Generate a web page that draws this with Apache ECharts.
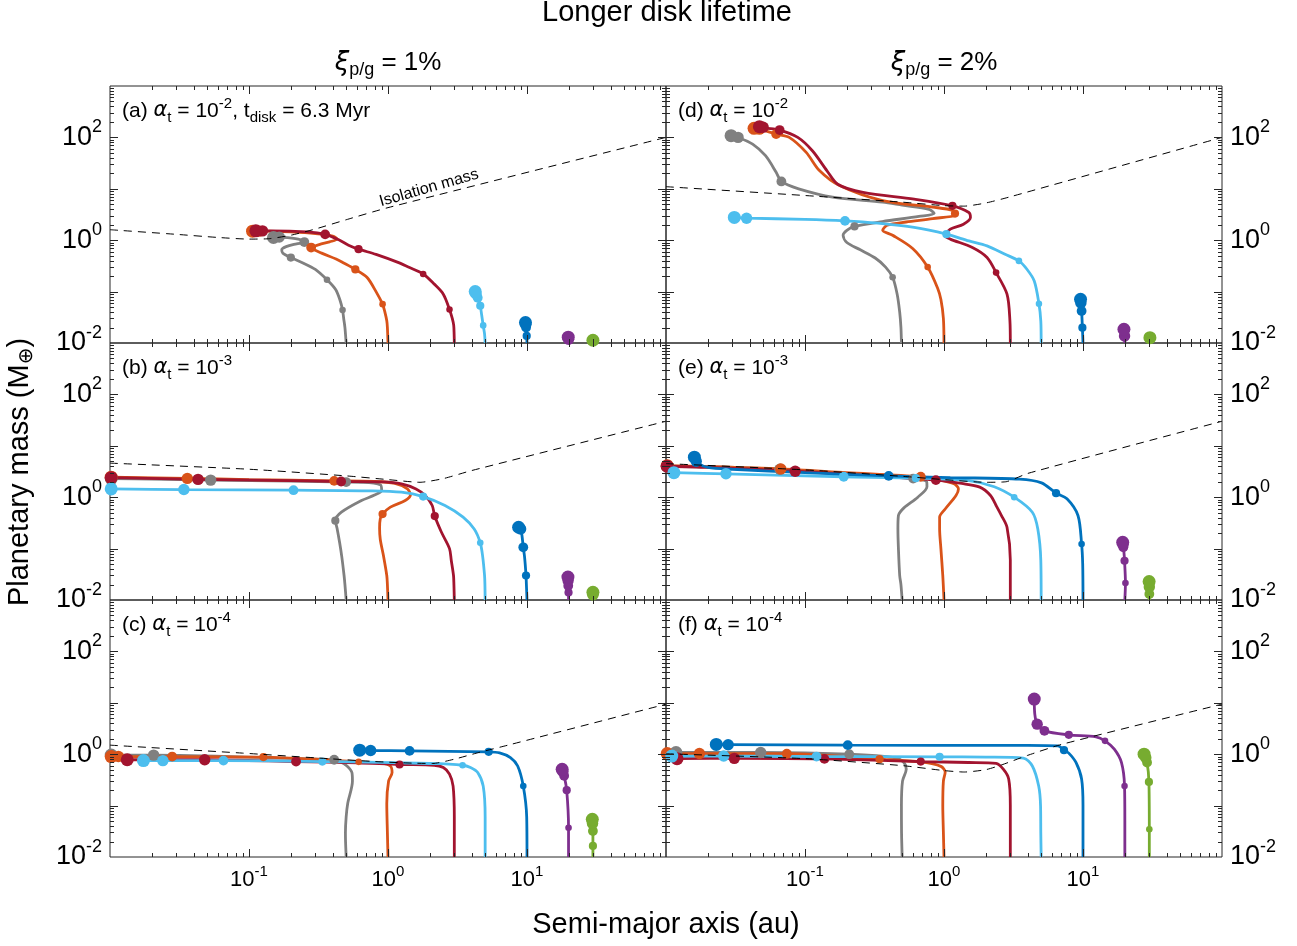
<!DOCTYPE html>
<html><head><meta charset="utf-8">
<script src="https://cdn.jsdelivr.net/npm/echarts@6/dist/echarts.min.js"></script>
<style>html,body{margin:0;padding:0;background:#fff}#c{width:1297px;height:946px}</style>
</head><body><div id="c"></div>
<script>
// ---------------- DATA (semi-major axis [au], planetary mass [M_earth]) ----------------
// Panel (a): xi=1%, alpha=1e-2
const a_gray = [[0.5,0.01],[0.49,0.02],[0.48,0.03],[0.471,0.044],[0.45,0.07],[0.42,0.11],[0.364,0.17],[0.3,0.27],[0.24,0.37],[0.2,0.46],[0.175,0.56],[0.172,0.65],[0.185,0.75],[0.22,0.85],[0.25,0.92],[0.235,1.02],[0.19,1.12],[0.16,1.15],[0.15,1.13]];
const a_gray_dots = [[0.471,0.044],[0.364,0.17],[0.2,0.46],[0.25,0.92],[0.165,1.15],[0.15,1.13]];
const a_orange = [[1,0.01],[0.99,0.02],[0.98,0.027],[0.95,0.04],[0.914,0.057],[0.82,0.1],[0.705,0.19],[0.582,0.27],[0.48,0.36],[0.423,0.43],[0.333,0.56],[0.28,0.72],[0.32,0.82],[0.38,0.93],[0.43,1.05],[0.4,1.2],[0.3,1.35],[0.2,1.45],[0.13,1.5],[0.106,1.5]];
const a_orange_dots = [[0.914,0.057],[0.582,0.27],[0.28,0.72],[0.118,1.5],[0.106,1.5]];
const a_red = [[3,0.01],[2.99,0.015],[2.97,0.022],[2.9,0.03],[2.77,0.045],[2.5,0.089],[2.15,0.14],[1.79,0.22],[1.4,0.3],[1.18,0.37],[0.82,0.53],[0.614,0.67],[0.52,0.8],[0.449,1.0],[0.353,1.3],[0.26,1.45],[0.143,1.52],[0.112,1.52]];
const a_red_dots = [[2.77,0.045],[1.79,0.22],[0.614,0.67],[0.353,1.3],[0.125,1.52],[0.112,1.52]];
const a_lblue = [[5,0.01],[4.95,0.015],[4.84,0.022],[4.72,0.035],[4.61,0.053],[4.42,0.076],[4.24,0.1]];
const a_lblue_dots = [[4.84,0.022],[4.61,0.053],[4.42,0.076],[4.3,0.09],[4.24,0.1]];
const a_blue = [[10,0.01],[9.95,0.0137],[9.85,0.02],[9.75,0.025]];
const a_blue_dots = [[9.95,0.0137],[9.85,0.02],[9.8,0.023],[9.75,0.025]];
const a_purple = [[20,0.01],[19.8,0.013]];
const a_purple_dots = [[19.9,0.0118],[19.8,0.013]];
const a_green = [[30,0.01],[29.8,0.0113]];
const a_green_dots = [[29.8,0.0113]];
const a_iso = [[0.01,1.6],[0.03,1.3],[0.06,1.13],[0.1,1.05],[0.14,1.07],[0.2,1.25],[0.3,1.65],[0.5,2.5],[1,4.3],[100,100]];

// Panel (b): xi=1%, alpha=1e-3
const b_gray = [[0.5,0.01],[0.49,0.02],[0.483,0.03],[0.465,0.07],[0.449,0.13],[0.43,0.25],[0.418,0.35],[0.462,0.51],[0.644,0.86],[0.8,1.1],[0.9,1.35],[0.88,1.75],[0.65,1.95],[0.5,1.97],[0.2,2.05],[0.053,2.15],[0.02,2.25],[0.0102,2.3]];
const b_gray_dots = [[0.418,0.35],[0.5,1.97],[0.053,2.15],[0.0102,2.3]];
const b_orange = [[1,0.01],[0.99,0.02],[0.98,0.03],[0.93,0.07],[0.88,0.15],[0.87,0.25],[0.88,0.38],[0.914,0.47],[1.04,0.64],[1.33,0.86],[1.45,1.1],[1.38,1.45],[1.12,1.85],[0.8,2.02],[0.41,2.08],[0.1,2.2],[0.036,2.32],[0.0102,2.45]];
const b_orange_dots = [[0.914,0.47],[0.41,2.08],[0.036,2.32],[0.0102,2.45]];
const b_red = [[3,0.01],[2.98,0.02],[2.96,0.03],[2.85,0.06],[2.77,0.1],[2.42,0.21],[2.17,0.43],[2.08,0.69],[1.85,1.08],[1.59,1.45],[1.25,1.82],[0.92,1.98],[0.46,2.02],[0.15,2.12],[0.043,2.22],[0.0102,2.4]];
const b_red_dots = [[2.17,0.43],[0.46,2.02],[0.043,2.22],[0.0102,2.4]];
const b_lblue = [[5,0.01],[4.98,0.02],[4.95,0.03],[4.8,0.07],[4.61,0.13],[4.17,0.24],[3.47,0.41],[2.57,0.69],[1.79,1.03],[1.25,1.25],[0.77,1.33],[0.209,1.37],[0.034,1.41],[0.0102,1.45]];
const b_lblue_dots = [[4.61,0.13],[1.79,1.03],[0.209,1.37],[0.034,1.41],[0.0102,1.45]];
const b_blue = [[10,0.01],[9.9,0.02],[9.84,0.03],[9.6,0.07],[9.4,0.106],[9.2,0.18],[9.0,0.24],[8.7,0.26]];
const b_blue_dots = [[9.84,0.03],[9.4,0.106],[9.0,0.24],[8.7,0.26]];
const b_purple = [[19.9,0.01],[19.9,0.014],[19.8,0.019],[19.7,0.028]];
const b_purple_dots = [[19.9,0.014],[19.8,0.019],[19.75,0.024],[19.7,0.028]];
const b_green = [[30,0.01],[29.8,0.0141]];
const b_green_dots = [[29.8,0.0125],[29.8,0.0141]];
const b_iso = [[0.01,4.6],[0.1,3.5],[0.5,2.6],[1,2.2],[1.7,1.95],[2.5,2.3],[4,3.3],[100,30]];

// Panel (c): xi=1%, alpha=1e-4
const c_gray = [[0.5,0.01],[0.495,0.02],[0.494,0.03],[0.5,0.06],[0.513,0.11],[0.555,0.3],[0.55,0.44],[0.507,0.59],[0.45,0.72],[0.41,0.78],[0.17,0.84],[0.0206,0.96],[0.0102,0.96]];
const c_gray_dots = [[0.41,0.78],[0.0206,0.96],[0.0102,0.96]];
const c_orange = [[1,0.01],[0.99,0.03],[0.98,0.11],[1.01,0.3],[1.07,0.44],[1.04,0.59],[0.9,0.67],[0.615,0.71],[0.3,0.8],[0.127,0.88],[0.028,0.9],[0.0102,0.9]];
const c_orange_dots = [[0.615,0.71],[0.127,0.88],[0.028,0.9],[0.0115,0.9],[0.0102,0.9]];
const c_red = [[3,0.01],[3,0.06],[2.94,0.24],[2.77,0.41],[2.5,0.55],[2.15,0.61],[1.21,0.63],[0.6,0.68],[0.218,0.72],[0.048,0.78],[0.0133,0.78]];
const c_red_dots = [[1.21,0.63],[0.218,0.72],[0.048,0.78],[0.0133,0.78]];
const c_lblue = [[5,0.01],[5,0.06],[4.84,0.24],[4.42,0.44],[3.92,0.55],[3.44,0.61],[2,0.66],[0.57,0.71],[0.337,0.72],[0.0655,0.75],[0.024,0.75],[0.0174,0.75]];
const c_lblue_dots = [[3.44,0.61],[0.337,0.72],[0.0655,0.75],[0.024,0.75],[0.0174,0.75]];
const c_blue = [[10,0.01],[9.95,0.06],[9.4,0.24],[8.57,0.59],[7.6,0.86],[6.35,1.06],[5.3,1.11],[1.43,1.16],[0.75,1.18],[0.626,1.2]];
const c_blue_dots = [[9.4,0.24],[5.3,1.11],[1.43,1.16],[0.75,1.18],[0.626,1.2]];
const c_purple = [[19.9,0.01],[19.9,0.037],[19.3,0.2],[18.5,0.38],[17.9,0.51]];
const c_purple_dots = [[19.9,0.037],[19.3,0.2],[18.5,0.38],[18.1,0.46],[17.9,0.51]];
const c_green = [[29.8,0.01],[29.8,0.0164],[29.8,0.032],[29.5,0.054]];
const c_green_dots = [[29.8,0.0164],[29.8,0.032],[29.6,0.045],[29.5,0.054]];
const c_iso = [[0.01,1.5],[0.09,1.05],[0.3,0.85],[0.8,0.72],[1.5,0.67],[2.1,0.66],[3,0.8],[4.5,1.08],[7.3,1.5],[100,9.4]];

// Panel (d): xi=2%, alpha=1e-2
const d_gray = [[0.494,0.01],[0.49,0.02],[0.48,0.04],[0.46,0.09],[0.427,0.19],[0.38,0.3],[0.32,0.45],[0.25,0.65],[0.2,0.9],[0.188,1.25],[0.2,1.55],[0.227,1.85],[0.36,2.3],[0.66,2.9],[0.85,3.3],[0.78,3.98],[0.5,4.8],[0.362,5.5],[0.158,6.9],[0.09,10],[0.0676,13.9],[0.062,21],[0.052,44],[0.042,74],[0.033,100],[0.0294,108]];
const d_gray_dots = [[0.427,0.19],[0.227,1.85],[0.0676,13.9],[0.033,100],[0.0294,108]];
const d_orange = [[1,0.01],[0.99,0.03],[0.95,0.07],[0.9,0.116],[0.763,0.3],[0.595,0.69],[0.427,1.25],[0.362,1.56],[0.39,1.95],[0.533,2.26],[0.83,2.63],[1.22,3.14],[1.16,3.8],[0.83,4.4],[0.362,5.9],[0.177,11.6],[0.127,22.6],[0.102,51],[0.077,100],[0.062,116],[0.047,145],[0.043,150]];
const d_orange_dots = [[0.763,0.3],[1.2,3.3],[0.062,116],[0.047,145],[0.043,150]];
const d_red = [[3,0.01],[2.98,0.027],[2.84,0.089],[2.37,0.234],[2.04,0.46],[1.6,0.72],[1.11,1.05],[1.02,1.21],[1.11,1.64],[1.38,2.05],[1.55,2.77],[1.51,3.46],[1.15,4.67],[0.61,6.3],[0.262,8.5],[0.172,12.3],[0.144,22.4],[0.113,55],[0.0887,100],[0.0657,139],[0.0515,152],[0.047,162]];
const d_red_dots = [[2.37,0.234],[1.15,4.67],[0.0657,139],[0.05,158],[0.047,162]];
const d_lblue = [[5,0.01],[4.97,0.027],[4.82,0.058],[4.46,0.161],[3.95,0.272],[3.46,0.396],[2.75,0.533],[2.04,0.776],[1.51,0.97],[1.04,1.31],[0.61,1.77],[0.334,2.14],[0.194,2.38],[0.1,2.55],[0.038,2.68],[0.031,2.77]];
const d_lblue_dots = [[4.82,0.058],[3.46,0.396],[1.04,1.31],[0.194,2.38],[0.038,2.68],[0.031,2.77]];
const d_blue = [[10,0.01],[9.9,0.0199],[9.77,0.042],[9.6,0.071]];
const d_blue_dots = [[9.9,0.0199],[9.77,0.042],[9.65,0.06],[9.6,0.071]];
const d_purple = [[20,0.01],[19.9,0.0137],[19.7,0.0185]];
const d_purple_dots = [[19.9,0.0137],[19.7,0.0185]];
const d_green = [[30,0.01],[30.3,0.0127]];
const d_green_dots = [[30.3,0.0127]];
const d_iso = [[0.01,11],[0.1,7.4],[0.5,5.5],[1,4.7],[1.4,4.6],[2,5.3],[3,7],[100,100]];

// Panel (e): xi=2%, alpha=1e-3
const e_gray = [[0.5,0.01],[0.49,0.02],[0.48,0.03],[0.47,0.1],[0.466,0.24],[0.47,0.44],[0.515,0.62],[0.648,1.0],[0.754,1.6],[0.75,2.0],[0.6,2.3],[0.2,2.8],[0.066,3.5],[0.02,3.9],[0.0102,4.0]];
const e_gray_dots = [[0.6,2.3],[0.066,3.5],[0.0102,4.0]];
const e_orange = [[1,0.01],[0.98,0.03],[0.95,0.1],[0.93,0.24],[0.93,0.41],[1.02,0.59],[1.22,1.08],[1.27,1.45],[1.18,1.82],[0.9,2.2],[0.68,2.5],[0.2,3.0],[0.067,3.55],[0.02,3.95],[0.0102,4.1]];
const e_orange_dots = [[0.68,2.5],[0.067,3.55],[0.0102,4.1]];
const e_red = [[3,0.01],[3,0.06],[2.84,0.26],[2.59,0.44],[2.37,0.69],[2.16,1.08],[1.81,1.57],[1.34,1.85],[0.874,2.15],[0.3,2.6],[0.085,3.2],[0.02,3.8],[0.0102,4.0]];
const e_red_dots = [[0.874,2.15],[0.085,3.2],[0.0102,4.0]];
const e_lblue = [[5,0.01],[4.97,0.06],[4.73,0.24],[4.32,0.51],[3.2,1.0],[2.3,1.6],[1.51,2.1],[0.628,2.35],[0.19,2.5],[0.027,2.85],[0.0114,3.0]];
const e_lblue_dots = [[3.2,1.0],[0.628,2.35],[0.19,2.5],[0.027,2.85],[0.0114,3.0]];
const e_blue = [[10,0.01],[9.95,0.05],[9.77,0.123],[9.2,0.44],[7.67,0.93],[6.4,1.2],[5.03,1.9],[3.5,2.25],[1.11,2.4],[0.4,2.6],[0.1,3.0],[0.03,3.5],[0.02,3.8],[0.017,4.6],[0.016,6.0]];
const e_blue_dots = [[9.77,0.123],[6.4,1.2],[0.4,2.6],[0.0165,5.0],[0.016,6.0]];
const e_purple = [[20,0.01],[20.2,0.0214],[19.9,0.058],[19.7,0.085],[19.5,0.106],[19.3,0.133]];
const e_purple_dots = [[20.2,0.0214],[19.9,0.058],[19.5,0.106],[19.4,0.12],[19.3,0.133]];
const e_green = [[30,0.01],[30,0.0131],[30,0.018],[29.9,0.0228]];
const e_green_dots = [[30,0.0131],[30,0.018],[29.9,0.0228]];
const e_iso = [[0.01,4.5],[0.1,3.4],[0.5,2.55],[1,2.2],[2,1.95],[2.8,2.0],[4,2.9],[100,30]];

// Panel (f): xi=2%, alpha=1e-4
const f_gray = [[0.5,0.01],[0.495,0.03],[0.494,0.1],[0.503,0.3],[0.535,0.51],[0.515,0.69],[0.45,0.85],[0.208,1.0],[0.048,1.08],[0.0118,1.08]];
const f_gray_dots = [[0.208,1.0],[0.048,1.08],[0.0118,1.08]];
const f_orange = [[1,0.01],[0.99,0.03],[0.98,0.1],[0.99,0.3],[1.02,0.45],[0.95,0.58],[0.7,0.7],[0.344,0.8],[0.074,1.02],[0.0174,1.03],[0.0102,1.03]];
const f_orange_dots = [[0.344,0.8],[0.074,1.02],[0.0174,1.03],[0.0102,1.03]];
const f_red = [[3,0.01],[3,0.03],[3,0.1],[2.92,0.33],[2.67,0.51],[2.37,0.66],[1.5,0.69],[0.68,0.72],[0.138,0.81],[0.031,0.83],[0.012,0.82]];
const f_red_dots = [[0.68,0.72],[0.138,0.81],[0.031,0.83],[0.012,0.82]];
const f_lblue = [[5,0.01],[4.97,0.03],[4.95,0.1],[4.8,0.24],[4.32,0.59],[3.72,0.84],[2,0.88],[0.93,0.89],[0.121,0.9],[0.026,0.92],[0.011,0.92]];
const f_lblue_dots = [[0.93,0.89],[0.121,0.9],[0.026,0.92],[0.011,0.92]];
const f_blue = [[10,0.01],[10,0.1],[9.77,0.33],[8.9,0.69],[7.9,1.05],[7.3,1.2],[6.6,1.45],[3.72,1.48],[0.203,1.5],[0.028,1.53],[0.023,1.55]];
const f_blue_dots = [[7.3,1.2],[0.203,1.5],[0.028,1.53],[0.023,1.55]];
const f_purple = [[20,0.01],[20,0.05],[19.9,0.24],[18.9,0.69],[16.8,1.25],[14.4,1.82],[12.4,2.18],[7.9,2.38],[5.28,2.85],[4.68,3.84],[4.5,6.0],[4.46,11.8]];
const f_purple_dots = [[19.9,0.24],[14.4,1.82],[7.9,2.38],[5.28,2.85],[4.68,3.84],[4.46,11.8]];
const f_green = [[30,0.01],[30,0.0346],[29.8,0.289],[28.9,0.69],[27.5,1.0]];
const f_green_dots = [[30,0.0346],[29.8,0.289],[28.9,0.69],[28.3,0.85],[27.5,1.0]];
const f_iso = [[0.01,1.02],[0.1,0.82],[0.5,0.6],[1,0.48],[1.4,0.45],[2,0.5],[2.6,0.62],[4,0.95],[7,1.55],[100,9.4]];

// Axis tick exponents shown as labels
const xLabelExps = [-1, 0, 1];
const yLabelExps = [-2, 0, 2];
const panelLetters = ['a','b','c','d','e','f'];
const alphaExps = ['-2','-3','-4','-2','-3','-4'];
const columnXi = ['1%','2%'];

// ---------------- BUILD ----------------
const COLORS = {gray:'#808080', orange:'#D95319', red:'#A2142F', lblue:'#4DBEEE', blue:'#0072BD', purple:'#7E2F8E', green:'#77AC30'};
const ORDER = ['gray','orange','red','lblue','blue','purple','green'];
const PANELS = [
  {iso:a_iso, tracks:[a_gray,a_gray_dots,a_orange,a_orange_dots,a_red,a_red_dots,a_lblue,a_lblue_dots,a_blue,a_blue_dots,a_purple,a_purple_dots,a_green,a_green_dots]},
  {iso:b_iso, tracks:[b_gray,b_gray_dots,b_orange,b_orange_dots,b_red,b_red_dots,b_lblue,b_lblue_dots,b_blue,b_blue_dots,b_purple,b_purple_dots,b_green,b_green_dots]},
  {iso:c_iso, tracks:[c_gray,c_gray_dots,c_orange,c_orange_dots,c_red,c_red_dots,c_lblue,c_lblue_dots,c_blue,c_blue_dots,c_purple,c_purple_dots,c_green,c_green_dots]},
  {iso:d_iso, tracks:[d_gray,d_gray_dots,d_orange,d_orange_dots,d_red,d_red_dots,d_lblue,d_lblue_dots,d_blue,d_blue_dots,d_purple,d_purple_dots,d_green,d_green_dots]},
  {iso:e_iso, tracks:[e_gray,e_gray_dots,e_orange,e_orange_dots,e_red,e_red_dots,e_lblue,e_lblue_dots,e_blue,e_blue_dots,e_purple,e_purple_dots,e_green,e_green_dots]},
  {iso:f_iso, tracks:[f_gray,f_gray_dots,f_orange,f_orange_dots,f_red,f_red_dots,f_lblue,f_lblue_dots,f_blue,f_blue_dots,f_purple,f_purple_dots,f_green,f_green_dots]}
];

const FF = "'Liberation Sans', Arial, Helvetica, sans-serif";
const GF = "'DejaVu Sans', sans-serif";
const INK = '#000';
const XMIN = 0.01, XMAX = 100, YMIN = 0.01, YMAX = 1000;
const COL_L = [110, 666], ROW_T = [86, 343, 600], GW = 556, GH = 257;

const grids = [], xAxes = [], yAxes = [], series = [];

function tickRich(base, small, P) {
  return {
    b: {fontSize: base, lineHeight: base, fontFamily: FF, color: INK, verticalAlign: 'middle'},
    s: {fontSize: small, fontFamily: FF, color: INK, verticalAlign: 'top', padding: [0, 0, P, 0]}
  };
}
const xRich = tickRich(22, 15, 16);
const yRich = tickRich(27, 18, 20);
function expLabel(allowed) {
  return function (v) {
    const e = Math.round(Math.log10(v));
    return allowed.indexOf(e) >= 0 ? '{b|10}{s|' + e + '}' : '';
  };
}

function tickSeries(gi) {
  return {
    type: 'custom', xAxisIndex: gi, yAxisIndex: gi, data: [[1, 1]], silent: true, z: 10, clip: false,
    renderItem: function (params, api) {
      const ch = [];
      const seg = (x1, y1, x2, y2) => ch.push({type: 'line', shape: {x1, y1, x2, y2}, style: {stroke: '#262626', lineWidth: 1}});
      for (let k = -2; k <= 1; k++) for (let m = 1; m <= 9; m++) {
        const v = m * Math.pow(10, k);
        if (v <= XMIN * 1.0001 || v >= XMAX * 0.9999) continue;
        const L = m === 1 ? 8 : 4;
        const pb = api.coord([v, YMIN]), pt = api.coord([v, YMAX]);
        const x = Math.round(pb[0]) + 0.5;
        seg(x, pb[1], x, pb[1] - L); seg(x, pt[1], x, pt[1] + L);
      }
      for (let k = -2; k <= 2; k++) for (let m = 1; m <= 9; m++) {
        const v = m * Math.pow(10, k);
        if (v <= YMIN * 1.0001 || v >= YMAX * 0.9999) continue;
        const L = m === 1 ? 8 : 4;
        const pl = api.coord([XMIN, v]), pr = api.coord([XMAX, v]);
        const y = Math.round(pl[1]) + 0.5;
        seg(pl[0], y, pl[0] + L, y); seg(pr[0], y, pr[0] - L, y);
      }
      return {type: 'group', children: ch};
    }
  };
}

PANELS.forEach(function (p, gi) {
  const col = gi < 3 ? 0 : 1, row = gi % 3;
  grids.push({left: COL_L[col], top: ROW_T[row], width: GW, height: GH, show: true,
    borderColor: '#262626', borderWidth: 1, backgroundColor: 'transparent', containLabel: false});
  xAxes.push({type: 'log', logBase: 10, gridIndex: gi, min: XMIN, max: XMAX, splitNumber: 4,
    axisLine: {show: false}, axisTick: {show: false}, splitLine: {show: false}, minorTick: {show: false},
    axisLabel: {show: row === 2, formatter: expLabel(xLabelExps), margin: 7, rich: xRich,
      showMinLabel: false, showMaxLabel: false, hideOverlap: false}});
  yAxes.push({type: 'log', logBase: 10, gridIndex: gi, min: YMIN, max: YMAX, splitNumber: 5,
    position: col === 0 ? 'left' : 'right',
    axisLine: {show: false}, axisTick: {show: false}, splitLine: {show: false}, minorTick: {show: false},
    axisLabel: {show: true, formatter: expLabel(yLabelExps), margin: 8, rich: yRich,
      showMinLabel: true, showMaxLabel: false, hideOverlap: false}});

  for (let i = 0; i < ORDER.length; i++) {
    const color = COLORS[ORDER[i]];
    const line = p.tracks[2 * i], dots = p.tracks[2 * i + 1];
    const n = dots.length;
    series.push({type: 'line', xAxisIndex: gi, yAxisIndex: gi, data: line, showSymbol: false, symbol: 'none',
      smooth: 0.3, lineStyle: {color: color, width: 2.8}, z: 2, silent: true, emphasis: {disabled: true}});
    series.push({type: 'scatter', xAxisIndex: gi, yAxisIndex: gi, data: dots, z: 2, silent: true,
      symbolSize: function (v, prm) { return Math.max(6.5, 13 - 1.6 * (n - 1 - prm.dataIndex)); },
      itemStyle: {color: color, opacity: 1}, emphasis: {disabled: true}, clip: false});
  }
  series.push({type: 'line', xAxisIndex: gi, yAxisIndex: gi, data: p.iso, showSymbol: false, symbol: 'none',
    smooth: 0.2, lineStyle: {color: '#000', width: 1, type: [8, 6]}, z: 4, silent: true});
  series.push(tickSeries(gi));
});

// ---------------- TEXT ----------------
function rich(base, small, P) {
  return {
    n: {fontSize: base, lineHeight: base, fontFamily: FF, fill: INK, color: INK, verticalAlign: 'middle'},
    g: {fontSize: base, lineHeight: base, fontFamily: GF, fontStyle: 'italic', fill: INK, color: INK, verticalAlign: 'middle'},
    sup: {fontSize: small, fontFamily: FF, fill: INK, color: INK, verticalAlign: 'top', padding: [0, 0, P, 0]},
    sub: {fontSize: small, fontFamily: FF, fill: INK, color: INK, verticalAlign: 'bottom', padding: [P, 0, 0, 0]},
    subg: {fontSize: small, fontFamily: GF, fill: INK, color: INK, verticalAlign: 'bottom', padding: [P, 0, 0, 0]}
  };
}
function txt(x, y, text, base, small, P, align, rot) {
  return {type: 'text', x: x, y: y, rotation: rot || 0, z: 100, silent: true,
    style: {text: text, rich: rich(base, small, P), fontSize: base, fontFamily: FF, fill: INK,
      align: align, textAlign: align, verticalAlign: 'middle', textVerticalAlign: 'middle'}};
}
const graphics = [];
graphics.push(txt(667, 13, '{n|Longer disk lifetime}', 29, 18, 12, 'center'));
graphics.push(txt(388, 63, '{g|ξ}{sub|p/g}{n| = ' + columnXi[0] + '}', 26, 18, 14, 'center'));
graphics.push(txt(944, 63, '{g|ξ}{sub|p/g}{n| = ' + columnXi[1] + '}', 26, 18, 14, 'center'));
for (let gi = 0; gi < 6; gi++) {
  const col = gi < 3 ? 0 : 1, row = gi % 3;
  let t = '{n|(' + panelLetters[gi] + ') }{g|α}{sub|t}{n| = 10}{sup|' + alphaExps[gi] + '}';
  if (gi === 0) t += '{n|, t}{sub|disk}{n| = 6.3 Myr}';
  graphics.push(txt(COL_L[col] + 12, ROW_T[row] + 25, t, 21, 15, 14, 'left'));
}
graphics.push(txt(20, 472, '{n|Planetary mass (M}{subg|⊕}{n|)}', 29, 20, 14, 'center', Math.PI / 2));
graphics.push(txt(666, 925, '{n|Semi-major axis (au)}', 29, 18, 12, 'center'));
graphics.push(txt(429, 188, '{n|Isolation mass}', 16, 12, 10, 'center', 16 * Math.PI / 180));

const chart = echarts.init(document.getElementById('c'), null, {renderer: 'canvas'});
chart.setOption({
  animation: false,
  backgroundColor: '#fff',
  grid: grids, xAxis: xAxes, yAxis: yAxes, series: series, graphic: graphics
});
</script></body></html>
